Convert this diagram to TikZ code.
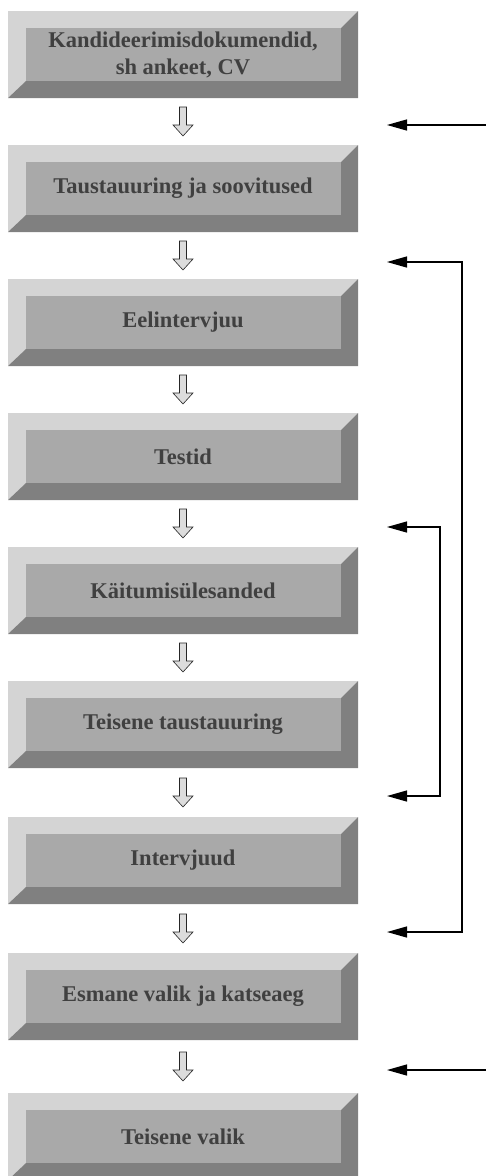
\documentclass[tikz,border=0pt]{standalone}
\usepackage{fontspec}
\setmainfont{Liberation Serif}
\usetikzlibrary{calc,arrows.meta}

\definecolor{bevellight}{HTML}{D4D4D4}
\definecolor{bevelmid}{HTML}{A9A9A9}
\definecolor{beveldark}{HTML}{808080}
\definecolor{boxtext}{HTML}{404040}
\definecolor{hollowfill}{HTML}{DCDCDC}

\tikzset{
  bevelbox/.style={
    minimum width=350pt, minimum height=87pt, inner sep=0pt,
    align=center, text=boxtext,
    font=\fontsize{22.5}{27}\selectfont\bfseries,
    path picture={
      \coordinate (nw) at (path picture bounding box.north west);
      \coordinate (ne) at (path picture bounding box.north east);
      \coordinate (sw) at (path picture bounding box.south west);
      \coordinate (se) at (path picture bounding box.south east);
      \coordinate (inw) at ($(nw)+(18pt,-17pt)$);
      \coordinate (ine) at ($(ne)+(-17pt,-17pt)$);
      \coordinate (isw) at ($(sw)+(18pt,17pt)$);
      \coordinate (ise) at ($(se)+(-17pt,17pt)$);
      \fill[bevellight] (nw) -- (ne) -- (ine) -- (inw) -- (isw) -- (sw) -- cycle;
      \fill[beveldark] (ne) -- (se) -- (sw) -- (isw) -- (ise) -- (ine) -- cycle;
      \fill[bevelmid] (inw) rectangle (ise);
    }
  },
  hollowarrow/.style={fill=hollowfill, draw=black!85, line width=0.6pt, line join=miter},
  feedback/.style={draw=black, line width=1.3pt,
    arrows={Triangle[length=20pt,width=11pt]-Triangle[length=20pt,width=11pt]}},
  feedbackone/.style={draw=black, line width=1.3pt,
    arrows={-Triangle[length=20pt,width=11pt]}}
}

% hollow downward arrow centred between two boxes
\newcommand\steparrow[2]{%
  \coordinate (m) at ($(#1.south)!0.5!(#2.north)$);
  \draw[hollowarrow, shift={(m)}]
    (-3.5,-14.5) -- (-3.5,3.5) -- (-10,3.5) -- (0,14.5) -- (10,3.5)
    -- (3.5,3.5) -- (3.5,-14.5) -- cycle;
}

\begin{document}
\begin{tikzpicture}[x=1pt,y=-1pt]
\useasboundingbox (0,0) rectangle (486,1176);
\clip (0,0) rectangle (486,1176);

% process steps
\node[bevelbox] (b1) at (183,54.5)   {Kandideerimisdokumendid,\\sh ankeet, CV};
\node[bevelbox] (b2) at (183,188.5)  {Taustauuring ja soovitused};
\node[bevelbox] (b3) at (183,322.5)  {Eelintervjuu};
\node[bevelbox] (b4) at (183,456.5)  {Testid};
\node[bevelbox] (b5) at (183,590.5)  {Käitumisülesanded};
\node[bevelbox] (b6) at (183,724.5)  {Teisene taustauuring};
\node[bevelbox] (b7) at (183,860.5)  {Intervjuud};
\node[bevelbox] (b8) at (183,996.5)  {Esmane valik ja katseaeg};
\node[bevelbox] (b9) at (183,1136.5) {Teisene valik};

% flow arrows between the steps
\steparrow{b1}{b2}
\steparrow{b2}{b3}
\steparrow{b3}{b4}
\steparrow{b4}{b5}
\steparrow{b5}{b6}
\steparrow{b6}{b7}
\steparrow{b7}{b8}
\steparrow{b8}{b9}

% feedback arrows on the right
\coordinate (a1s) at (486,125);  \coordinate (a1e) at (387,125);
\coordinate (o1e) at (387,262);  \coordinate (o1c) at (462,262);
\coordinate (o2c) at (462,932);  \coordinate (o2e) at (387,932);
\coordinate (i1e) at (387,527);  \coordinate (i1c) at (440,527);
\coordinate (i2c) at (440,796);  \coordinate (i2e) at (387,796);
\coordinate (a2s) at (486,1070); \coordinate (a2e) at (387,1070);

\draw[feedbackone] (a1s) -- (a1e);
\draw[feedback] (o1e) -- (o1c) -- (o2c) -- (o2e);
\draw[feedback] (i1e) -- (i1c) -- (i2c) -- (i2e);
\draw[feedbackone] (a2s) -- (a2e);
\end{tikzpicture}
\end{document}
